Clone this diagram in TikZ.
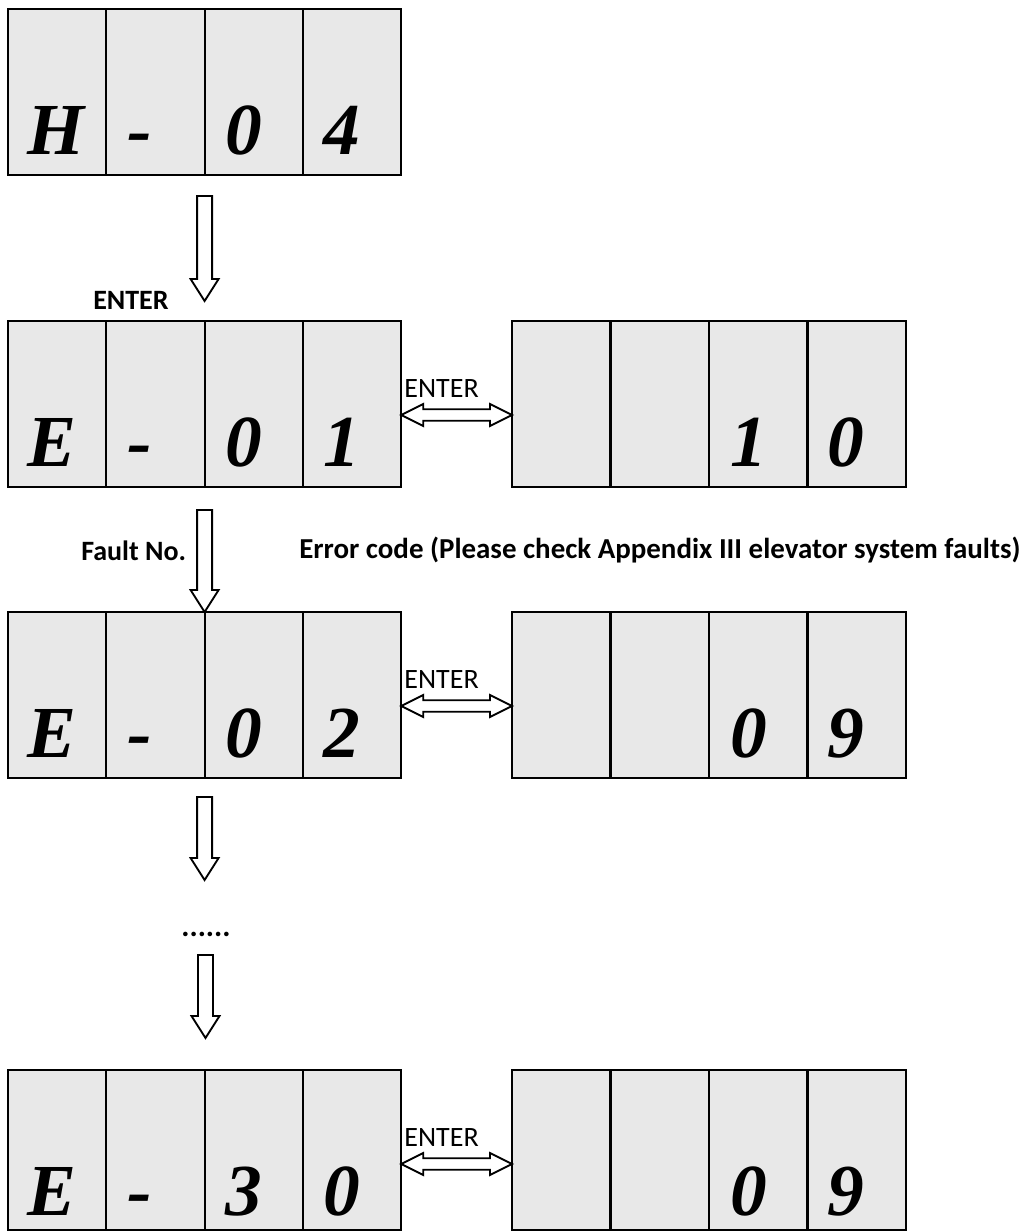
\documentclass[tikz,border=0pt]{standalone}
\usepackage{fontspec}
\setmainfont{Liberation Serif}
\newfontfamily\labelfont{Carlito}
\usetikzlibrary{calc}

\definecolor{cellgray}{HTML}{E8E8E8}

% hollow block arrow pointing down, from a top point to a tip point
\newcommand\downblock[2]{%
  \draw[blockline] ($(#1)+(-7.5,0)$) -- ($(#2)+(-7.5,-22)$) -- ($(#2)+(-14,-22)$)
    -- (#2) -- ($(#2)+(14,-22)$) -- ($(#2)+(7.5,-22)$) -- ($(#1)+(7.5,0)$) -- cycle;}
% hollow horizontal double-headed block arrow between two points
\newcommand\twoway[2]{%
  \draw[blockline] (#1) -- ($(#1)+(22,-11)$) -- ($(#1)+(22,-5.7)$) -- ($(#2)+(-22,-5.7)$)
    -- ($(#2)+(-22,-11)$) -- (#2) -- ($(#2)+(-22,11)$) -- ($(#2)+(-22,5.7)$)
    -- ($(#1)+(22,5.7)$) -- ($(#1)+(22,11)$) -- cycle;}

\begin{document}
\begin{tikzpicture}[x=0.75pt,y=-0.75pt,
  cell/.style={draw=black, line width=1.5pt, fill=cellgray,
    minimum width=73.725pt, minimum height=124.5pt,
    inner sep=0pt, outer sep=0pt, anchor=north west},
  lowcell/.style={cell, minimum height=120pt},
  digit/.style={inner sep=0pt, anchor=base west,
    font=\fontsize{55}{55}\selectfont\bfseries\itshape},
  label/.style={inner sep=0pt, anchor=base west,
    font=\labelfont\fontsize{21}{21}\selectfont},
  boldlabel/.style={label, font=\labelfont\bfseries\fontsize{21}{21}\selectfont},
  blockline/.style={draw=black, fill=white, line width=1.4pt, line join=miter},
]
\useasboundingbox (0,0) rectangle (1026,1232);

% left displays
\foreach \r/\y in {1/9, 2/321, 3/612}
  \foreach \c in {0,...,3}
    \node[cell] (L\r\c) at ({8+98.3*\c}, \y) {};
\foreach \c in {0,...,3}
  \node[lowcell] (L4\c) at ({8+98.3*\c}, 1070) {};

% right displays
\foreach \r/\y in {2/321, 3/612}
  \foreach \c in {0,...,3}
    \node[cell] (R\r\c) at ({512+98.5*\c}, \y) {};
\foreach \c in {0,...,3}
  \node[lowcell] (R4\c) at ({512+98.5*\c}, 1070) {};

% characters shown on the displays
\foreach \r/\a/\b/\cc/\d in {1/H/-/0/4, 2/E/-/0/1, 3/E/-/0/2, 4/E/-/3/0} {
  \node[digit] (gL\r0) at ($(L\r0.north west)+(19,145)$) {\a};
  \node[digit] (gL\r1) at ($(L\r1.north west)+(21,145)$) {\b};
  \node[digit] (gL\r2) at ($(L\r2.north west)+(21,145)$) {\cc};
  \node[digit] (gL\r3) at ($(L\r3.north west)+(20,145)$) {\d};
}
\foreach \r/\a/\b in {2/1/0, 3/0/9, 4/0/9} {
  \node[digit] (gR\r2) at ($(R\r2.north west)+(21,145)$) {\a};
  \node[digit] (gR\r3) at ($(R\r3.north west)+(20,145)$) {\b};
}

% vertical flow arrows
\coordinate (a1top) at (204.6,196);
\coordinate (a1tip) at (204.6,301);
\coordinate (a2top) at (204.6,510);
\coordinate (a3top) at (204.6,797);
\coordinate (a3tip) at (204.6,880);
\coordinate (a4top) at (205.5,955);
\coordinate (a4tip) at (205.5,1038);
\downblock{a1top}{a1tip}
\downblock{a2top}{L32.north west}
\downblock{a3top}{a3tip}
\downblock{a4top}{a4tip}

% ENTER toggles between fault number and error code
\foreach \r in {2,3,4} {
  \coordinate (t\r a) at ($(L\r3.north east)+(0,94)$);
  \coordinate (t\r b) at ($(R\r0.north west)+(0,94)$);
  \twoway{t\r a}{t\r b}
  \node[label] (en\r) at ($(L\r3.north east)+(3,76)$) {ENTER};
}

% labels
\node[boldlabel] (enter1) at (93,309) {ENTER};
\node[boldlabel] (faultno) at (81,560) {Fault No.};
\node[inner sep=0pt, anchor=base west, font=\labelfont\bfseries\fontsize{21.7}{21.7}\selectfont]
  (errcode) at (299,558) {Error code (Please check Appendix III elevator system faults)};
\node[inner sep=0pt, anchor=base, font=\labelfont\bfseries\fontsize{23}{23}\selectfont] (dots) at (206,936) {......};
\end{tikzpicture}
\end{document}
